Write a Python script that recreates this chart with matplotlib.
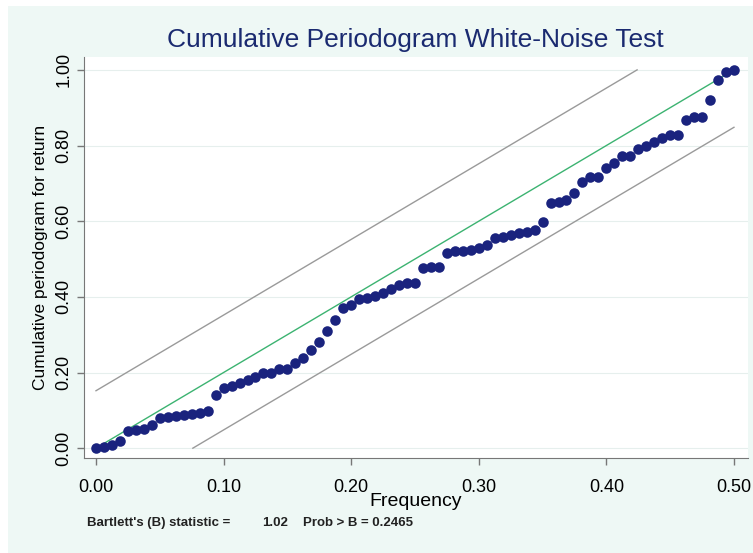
import numpy as np
import matplotlib.pyplot as plt
from matplotlib.patches import Rectangle

plt.rcParams['font.family'] = ['Liberation Sans', 'DejaVu Sans']

# cumulative periodogram values at Fourier frequencies j/160, j = 0..80
cumper = [0.000, 0.002, 0.008, 0.020, 0.045, 0.047, 0.050, 0.060, 0.080, 0.082,
          0.085, 0.088, 0.090, 0.092, 0.097, 0.140, 0.160, 0.164, 0.172, 0.180,
          0.188, 0.198, 0.200, 0.210, 0.210, 0.225, 0.238, 0.260, 0.280, 0.310,
          0.340, 0.370, 0.378, 0.395, 0.398, 0.402, 0.410, 0.420, 0.430, 0.436,
          0.436, 0.476, 0.478, 0.480, 0.516, 0.520, 0.520, 0.524, 0.529, 0.537,
          0.556, 0.558, 0.563, 0.569, 0.571, 0.577, 0.598, 0.648, 0.651, 0.656,
          0.675, 0.704, 0.717, 0.717, 0.740, 0.754, 0.772, 0.772, 0.790, 0.800,
          0.810, 0.820, 0.828, 0.828, 0.868, 0.876, 0.876, 0.920, 0.974, 0.995,
          1.000]
n_obs = 160
freq = [j / n_obs for j in range(len(cumper))]
band = 1.358 / np.sqrt(len(cumper) - 1)

xticks = [0.0, 0.1, 0.2, 0.3, 0.4, 0.5]
yticks = [0.0, 0.2, 0.4, 0.6, 0.8, 1.0]

fig = plt.figure(figsize=(7.53, 5.53), dpi=100)
fig.patches.append(Rectangle((8 / 753, 0), 1, 547 / 553, transform=fig.transFigure,
                             facecolor='#eef8f5', edgecolor='none', zorder=-10))
ax = fig.add_axes([84 / 753, 95 / 553, 664 / 753, 401 / 553])
ax.set_facecolor('white')

for t in yticks:
    ax.axhline(t, color='#e6efed', lw=0.8, zorder=0)

ax.plot([0, 0.5], [0, 1], color='#3cb371', lw=1.0, zorder=2)
ax.plot([0, (1 - band) / 2], [band, 1], color='#9a9a9a', lw=1.0, zorder=2)
ax.plot([band / 2, 0.5], [0, 1 - band], color='#9a9a9a', lw=1.0, zorder=2)
ax.plot(freq, cumper, 'o', color='#1a237e', markersize=7.6, markeredgewidth=0, zorder=3)

ax.set_xlim(-0.0094, 0.511)
ax.set_ylim(-0.026, 1.034)
ax.set_xticks(xticks)
ax.set_xticklabels(['%.2f' % t for t in xticks], fontsize=13)
ax.set_yticks(yticks)
ax.set_yticklabels(['%.2f' % t for t in yticks], fontsize=13, rotation=90, va='center')
ax.tick_params(length=5, color='#777777', width=1)
ax.tick_params(axis='x', pad=10)
for s in ['top', 'right']:
    ax.spines[s].set_visible(False)
for s in ['left', 'bottom']:
    ax.spines[s].set_color('#777777')

ax.set_xlabel('Frequency', fontsize=14, labelpad=-2)
ax.set_ylabel('Cumulative periodogram for return', fontsize=12.5, labelpad=5)
fig.text(415 / 753, 1 - 40 / 553, 'Cumulative Periodogram White-Noise Test',
         fontsize=19, color='#1a2a70', ha='center', va='center')
fig.text(87 / 753, 1 - 523 / 553, "Bartlett's (B) statistic =",
         fontsize=9.5, fontweight='bold', color='#222222', ha='left', va='center')
fig.text(262 / 753, 1 - 523 / 553, "1.02",
         fontsize=9.5, fontweight='bold', color='#222222', ha='left', va='center')
fig.text(303 / 753, 1 - 523 / 553, "Prob > B = 0.2465",
         fontsize=9.5, fontweight='bold', color='#222222', ha='left', va='center')

fig.savefig('out.png', dpi=100)
